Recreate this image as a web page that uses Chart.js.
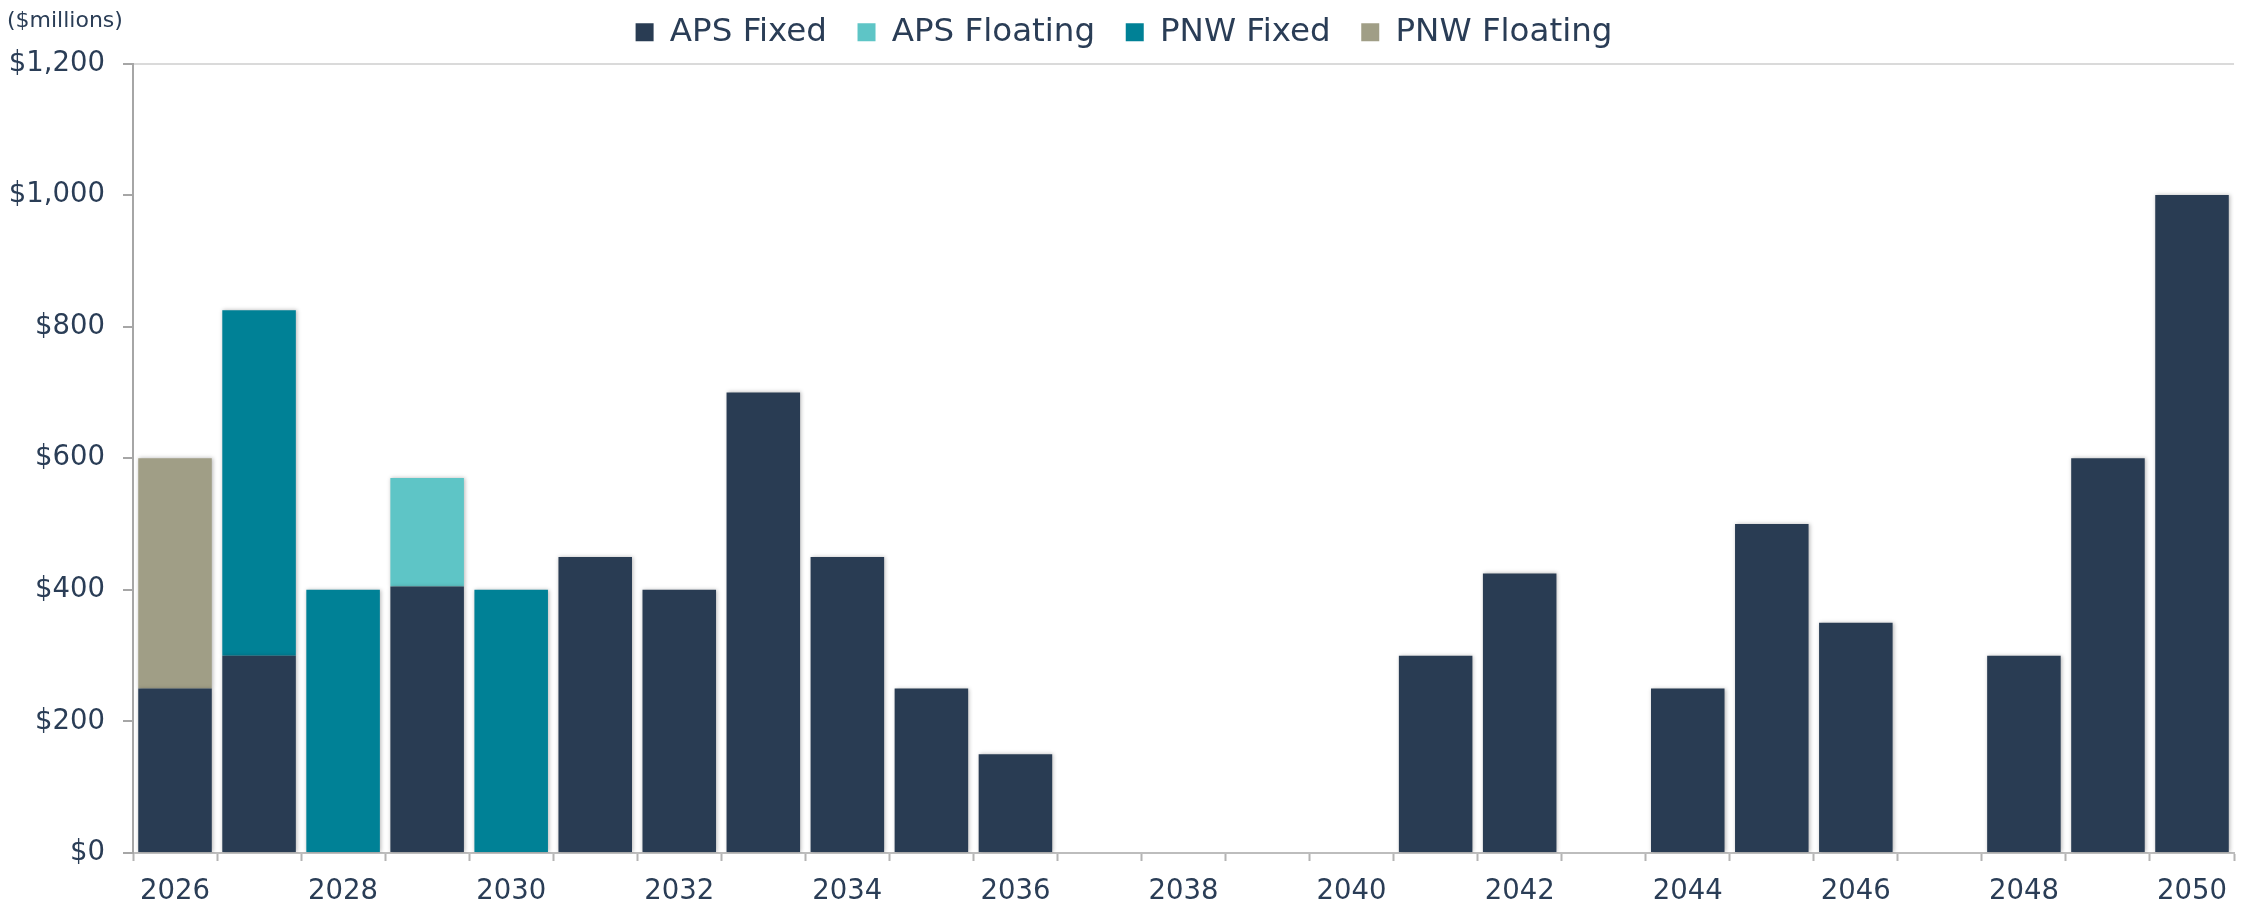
<!DOCTYPE html>
<html>
<head>
<meta charset="utf-8">
<script src="https://cdn.jsdelivr.net/npm/chart.js@4.4.1/dist/chart.umd.min.js"></script>
<style>
  html, body { margin: 0; padding: 0; background: #fff; }
  #wrap { width: 2241px; height: 909px; position: relative; }
</style>
</head>
<body>
<div id="wrap"><canvas id="maturities"></canvas></div>
<script>
// years on the x axis
var years = ["2026", "2027", "2028", "2029", "2030", "2031", "2032", "2033", "2034",
  "2035", "2036", "2037", "2038", "2039", "2040", "2041", "2042", "2043", "2044",
  "2045", "2046", "2047", "2048", "2049", "2050"];

// $ millions, null = nothing maturing that year
var apsFixed = [250, 300, null, 405, null, 450, 400, 700, 450, 250, 150, null, null,
  null, null, 300, 425, null, 250, 500, 350, null, 300, 600, 1000];
var apsFloating = [null, null, null, 165, null, null, null, null, null, null, null, null,
  null, null, null, null, null, null, null, null, null, null, null, null, null];
var pnwFixed = [null, 525, 400, null, 400, null, null, null, null, null, null, null, null,
  null, null, null, null, null, null, null, null, null, null, null, null];
var pnwFloating = [350, null, null, null, null, null, null, null, null, null, null, null,
  null, null, null, null, null, null, null, null, null, null, null, null, null];

var yTicks = [0, 200, 400, 600, 800, 1000, 1200];

var textColor = "#2a3d56";
var font = "'DejaVu Sans', Verdana, sans-serif";

// soft drop shadow under the bars
var barShadow = {
  id: "barShadow",
  beforeDatasetsDraw: function (chart) {
    var c = chart.ctx;
    c.save();
    c.shadowColor = "rgba(0,0,0,0.28)";
    c.shadowBlur = 4;
    c.shadowOffsetX = 1;
    c.shadowOffsetY = 0;
  },
  afterDatasetsDraw: function (chart) {
    chart.ctx.restore();
  }
};

// a bit more room between legend and plot
var legendGap = {
  id: "legendGap",
  beforeInit: function (chart) {
    var fit = chart.legend.fit;
    chart.legend.fit = function () {
      fit.bind(chart.legend)();
      this.height += 5;
    };
  }
};

// "($millions)" unit note at top left
var unitNote = {
  id: "unitNote",
  afterDraw: function (chart) {
    var c = chart.ctx;
    c.save();
    c.font = "22px " + font;
    c.fillStyle = textColor;
    c.textAlign = "left";
    c.textBaseline = "alphabetic";
    c.fillText("($millions)", 7, 27);
    c.restore();
  }
};

var ctx = document.querySelector("#maturities").getContext("2d");
new Chart(ctx, {
  type: "bar",
  data: {
    labels: years,
    datasets: [
      { label: "APS Fixed", data: apsFixed, backgroundColor: "#293c53" },
      { label: "APS Floating", data: apsFloating, backgroundColor: "#5ec5c6" },
      { label: "PNW Fixed", data: pnwFixed, backgroundColor: "#008196" },
      { label: "PNW Floating", data: pnwFloating, backgroundColor: "#a09e86" }
    ]
  },
  options: {
    responsive: true,
    maintainAspectRatio: false,
    animation: false,
    datasets: {
      bar: { barPercentage: 0.875, categoryPercentage: 1, borderWidth: 0 }
    },
    layout: { padding: { left: 7, right: 0, top: 6, bottom: -13 } },
    plugins: {
      tooltip: { enabled: false },
      legend: {
        position: "top",
        align: "center",
        labels: {
          boxWidth: 18,
          boxHeight: 18,
          padding: 10,
          color: textColor,
          font: { family: font, size: 32.5 },
          generateLabels: function (chart) {
            var items = Chart.defaults.plugins.legend.labels.generateLabels(chart);
            items.forEach(function (it, i) {
              if (i < items.length - 1) it.text = it.text + "  ";
            });
            return items;
          }
        }
      }
    },
    scales: {
      x: {
        stacked: true,
        border: { color: "#bdbdbd", width: 2 },
        grid: {
          offset: true,
          drawOnChartArea: false,
          tickLength: 8,
          tickColor: "#b3b3b3",
          tickWidth: 2
        },
        ticks: {
          autoSkip: false,
          maxRotation: 0,
          padding: 14,
          color: textColor,
          font: { family: font, size: 27.5 },
          callback: function (v, i) {
            return i % 2 === 0 ? years[i] : "";
          }
        }
      },
      y: {
        stacked: true,
        min: yTicks[0],
        max: yTicks[yTicks.length - 1],
        afterFit: function (scale) {
          scale.width = 126;
        },
        border: { color: "#a6a6a6", width: 2 },
        grid: {
          color: function (c) {
            return c.tick && c.tick.value === yTicks[yTicks.length - 1] ? "#dadada" : "rgba(0,0,0,0)";
          },
          lineWidth: 2,
          tickLength: 10,
          tickColor: "#a6a6a6",
          tickWidth: 2
        },
        ticks: {
          stepSize: 200,
          padding: 18,
          color: textColor,
          font: { family: font, size: 27.5 },
          callback: function (v) {
            return "$" + v.toLocaleString("en-US");
          }
        }
      }
    }
  },
  plugins: [barShadow, legendGap, unitNote]
});
</script>
</body>
</html>
